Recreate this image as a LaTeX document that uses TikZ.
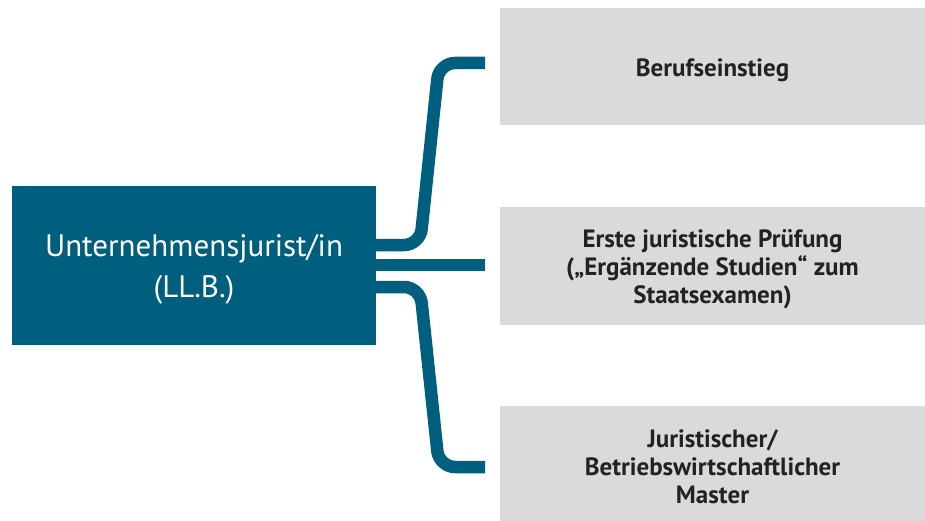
\documentclass[tikz,border=0pt]{standalone}
\usepackage{fontspec}
\setmainfont{PT Sans}
\definecolor{darkblue}{RGB}{0,94,126}
\definecolor{boxgray}{RGB}{218,218,218}
\definecolor{txt}{RGB}{34,34,34}
\begin{document}
\begin{tikzpicture}[x=1pt,y=-1pt,
  mainbox/.style={fill=darkblue,draw=none,minimum width=364pt,minimum height=159pt,inner sep=0pt},
  maintext/.style={text=white,align=center,inner sep=0pt,font=\fontsize{31}{41}\selectfont},
  graybox/.style={fill=boxgray,draw=none,minimum width=425pt,inner sep=0pt},
  graytext/.style={text=txt,align=center,inner sep=0pt,font=\bfseries\fontsize{25}{28}\selectfont},
  conn/.style={draw=darkblue,line width=12.5pt,rounded corners=16pt}]
\useasboundingbox (0,0) rectangle (925,521);
\node[mainbox] (main) at (194,265.5) {};
\node[maintext] (maint) at ([yshift=-4pt]main.center) {Unternehmensjurist/in\\(LL.B.)};
\node[graybox,minimum height=117pt] (b1) at (712.5,66.5) {};
\node[graytext] (t1) at ([yshift=-4pt]b1.center) {Berufseinstieg};
\node[graybox,minimum height=118pt] (b2) at (712.5,266) {};
\node[graytext] (t2) at ([yshift=-3pt]b2.center) {Erste juristische Prüfung\\(„Ergänzende Studien“ zum\\Staatsexamen)};
\node[graybox,minimum height=115pt] (b3) at (712.5,463.5) {};
\node[graytext] (t3) at ([yshift=-3pt]b3.center) {Juristischer/\\Betriebswirtschaftlicher\\Master};
\coordinate (e1) at (485,63);
\coordinate (e2) at (485,265);
\coordinate (e3) at (485,467);
\draw[conn] (main.east |- 0,245) -- (420,245) -- (439,63) -- (e1);
\draw[conn] (main.east |- e2) -- (e2);
\draw[conn] (main.east |- 0,287) -- (420,287) -- (439,467) -- (e3);
\end{tikzpicture}
\end{document}
